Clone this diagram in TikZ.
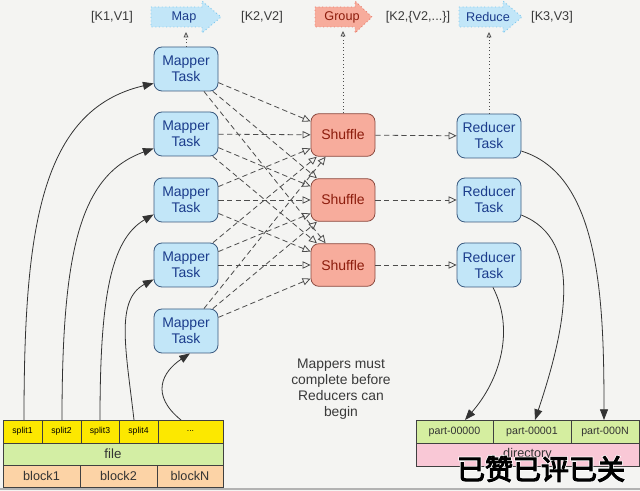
\documentclass[tikz,border=0pt]{standalone}
\usepackage{fontspec}
\setmainfont{Liberation Sans}
\newfontfamily\cjk{Noto Sans CJK SC}[FakeBold=4]
\newfontfamily\cjkhalo{Noto Sans CJK SC}[FakeBold=9]
\usetikzlibrary{arrows.meta,calc}
\definecolor{bgc}{HTML}{F4F4F2}
\definecolor{mapf}{HTML}{C2E6F8}
\definecolor{mapb}{HTML}{3A5A80}
\definecolor{mapt}{HTML}{1B3C8C}
\definecolor{shf}{HTML}{F7AC9C}
\definecolor{shb}{HTML}{8A4A40}
\definecolor{sht}{HTML}{8C1C0C}
\definecolor{splitc}{HTML}{FCE800}
\definecolor{filec}{HTML}{D3EEA4}
\definecolor{blockc}{HTML}{FCD3A6}
\definecolor{partc}{HTML}{D5EEA0}
\definecolor{dirc}{HTML}{F9C8D6}
\definecolor{arrbd}{HTML}{7EC8EE}
\definecolor{grpbd}{HTML}{E88070}
\definecolor{txtg}{HTML}{3A3A3A}
\begin{document}
\begin{tikzpicture}[x=0.75pt,y=-0.75pt,
  task/.style={draw=mapb, fill=mapf, text=mapt, rounded corners=6pt, line width=0.6pt,
    minimum width=48pt, minimum height=33pt, align=center, inner sep=1pt,
    font=\fontsize{10.5}{12}\selectfont},
  shuf/.style={draw=shb, fill=shf, text=sht, rounded corners=6pt, line width=0.6pt,
    minimum width=48pt, minimum height=32pt, align=center, inner sep=1pt,
    font=\fontsize{10.5}{12}\selectfont},
  cell/.style={draw=black!75, line width=0.6pt},
  lbl/.style={text=txtg, font=\fontsize{9.5}{11}\selectfont},
  dsh/.style={draw=black!70, dash pattern=on 4pt off 2.5pt, line width=0.6pt,
    -{Triangle[open, length=6pt, width=5.5pt]}},
  dot/.style={draw=black!70, dotted, line width=0.6pt,
    -{Triangle[open, length=4pt, width=3.5pt]}},
  feed/.style={draw=black!80, line width=0.6pt, -{Triangle[length=8pt, width=6pt]}}
]
\useasboundingbox (0,0) rectangle (640,491);
\fill[bgc] (0,0) rectangle (640,491);
\draw[black!30, line width=0.8pt] (0,489) -- (640,489);

% top phase arrows
\draw[arrbd, fill=mapf, dotted, line width=0.7pt] (151,7) -- (202,7) -- (202,1) -- (221,17) -- (202,33) -- (202,27) -- (151,27) -- cycle;
\draw[grpbd, fill=shf, dotted, line width=0.7pt] (315,7) -- (355,7) -- (355,1) -- (372,17) -- (355,33) -- (355,27) -- (315,27) -- cycle;
\draw[arrbd, fill=mapf, dotted, line width=0.7pt] (459,7) -- (503,7) -- (503,1) -- (522,17) -- (503,33) -- (503,27) -- (459,27) -- cycle;
\node[text=mapt, font=\fontsize{9.5}{11}\selectfont] (mapl) at (184,17) {Map};
\node[text=sht, font=\fontsize{9.5}{11}\selectfont] (grpl) at (342,17) {Group};
\node[text=mapt, font=\fontsize{9.5}{11}\selectfont] (redl) at (488,17) {Reduce};
\coordinate (mapc) at (186,32);
\coordinate (grpc) at (343,31);
\coordinate (redc) at (489,32);

\node[lbl] (k1) at (112,17) {[K1,V1]};
\node[lbl] (k2) at (262,17) {[K2,V2]};
\node[lbl] (k2l) at (418,17) {[K2,\{V2,...\}]};
\node[lbl] (k3) at (552,17) {[K3,V3]};

% mappers
\node[task] (m1) at (186,69) {Mapper\\Task};
\node[task] (m2) at (186,134) {Mapper\\Task};
\node[task] (m3) at (186,200) {Mapper\\Task};
\node[task] (m4) at (186,265) {Mapper\\Task};
\node[task] (m5) at (186,331) {Mapper\\Task};

% shuffles
\node[shuf] (s1) at (343,135) {Shuffle};
\node[shuf] (s2) at (343,200) {Shuffle};
\node[shuf] (s3) at (343,265) {Shuffle};

% reducers
\node[task] (r1) at (489,136) {Reducer\\Task};
\node[task] (r2) at (489,200) {Reducer\\Task};
\node[task] (r3) at (489,265) {Reducer\\Task};

% dotted to phases
\draw[dot] (m1.north) -- (mapc);
\draw[dot] (s1.north) -- (grpc);
\draw[dot] (r1.north) -- (redc);

% mapper -> shuffle
\foreach \m in {m1,m2,m3,m4,m5}{
  \foreach \s in {s1,s2,s3}{
    \draw[dsh] (\m) -- (\s);
  }
}
% shuffle -> reducer
\draw[dsh] (s1) -- (r1);
\draw[dsh] (s2) -- (r2);
\draw[dsh] (s3) -- (r3);

% input file
\draw[cell, fill=splitc] (3,420) rectangle (42,443) node[midway, font=\fontsize{6.5}{8}\selectfont] (sp1) {split1};
\draw[cell, fill=splitc] (42,420) rectangle (81,443) node[midway, font=\fontsize{6.5}{8}\selectfont] (sp2) {split2};
\draw[cell, fill=splitc] (81,420) rectangle (119,443) node[midway, font=\fontsize{6.5}{8}\selectfont] (sp3) {split3};
\draw[cell, fill=splitc] (119,420) rectangle (158,443) node[midway, font=\fontsize{6.5}{8}\selectfont] (sp4) {split4};
\draw[cell, fill=splitc] (158,420) rectangle (223,443) node[midway, font=\fontsize{6.5}{8}\selectfont] (sp5) {...};
\draw[cell, fill=filec] (3,443) rectangle (223,465) node[midway, font=\fontsize{10}{12}\selectfont, text=black!80] (file) {file};
\draw[cell, fill=blockc] (3,465) rectangle (80,487) node[midway, font=\fontsize{9.5}{11}\selectfont, text=black!80] (b1) {block1};
\draw[cell, fill=blockc] (80,465) rectangle (157,487) node[midway, font=\fontsize{9.5}{11}\selectfont, text=black!80] (b2) {block2};
\draw[cell, fill=blockc] (157,465) rectangle (223,487) node[midway, font=\fontsize{9.5}{11}\selectfont, text=black!80] (bn) {blockN};

\coordinate (t1) at (24,420);
\coordinate (t2) at (62,420);
\coordinate (t3) at (100,420);
\coordinate (t4) at (134,420);
\coordinate (t5) at (181,420);

% output directory
\draw[cell, fill=dirc] (416,443) rectangle (639,466) node[midway, font=\fontsize{9.5}{11}\selectfont, text=black!80] (dir) {directory};
\draw[cell, fill=partc] (416,420) rectangle (493,443) node[midway, font=\fontsize{8}{10}\selectfont, text=black!80] (p0) {part-00000};
\draw[cell, fill=partc] (493,420) rectangle (571,443) node[midway, font=\fontsize{8}{10}\selectfont, text=black!80] (p1) {part-00001};
\draw[cell, fill=partc] (571,420) rectangle (639,443) node[midway, font=\fontsize{8}{10}\selectfont, text=black!80] (pn) {part-000N};
\coordinate (u0) at (465,420);
\coordinate (u1) at (535,420);
\coordinate (un) at (604,420);

% feeds
\draw[feed] (t1) .. controls (24,230) and (40,110) .. (m1.204);
\draw[feed] (t2) .. controls (62,250) and (80,175) .. (m2.204);
\draw[feed] (t3) .. controls (100,300) and (110,240) .. (m3.204);
\draw[feed] (t4) .. controls (126,350) and (115,300) .. (m4.204);
\draw[feed] (t5) .. controls (150,395) and (162,372) .. (m5.280);

\draw[feed] (r1.-25) .. controls (600,175) and (604,300) .. (un);
\draw[feed] (r2.-25) .. controls (585,240) and (565,330) .. (u1);
\draw[feed] (r3.-80) .. controls (515,330) and (500,380) .. (u0);

% note
\node[text=txtg, align=center, font=\fontsize{10.4}{12}\selectfont] (note) at (341,389) {Mappers must\\complete before\\Reducers can\\begin};

% watermark (white halo + black text in one node)
\node[font=\fontsize{21}{24}\selectfont, inner sep=0pt] (wm) at (541,469)
  {\ooalign{\hfil{\cjkhalo\color{white}已赞已评已关}\hfil\cr\hfil{\cjk\color{black}已赞已评已关}\hfil\cr}};
\end{tikzpicture}
\end{document}
